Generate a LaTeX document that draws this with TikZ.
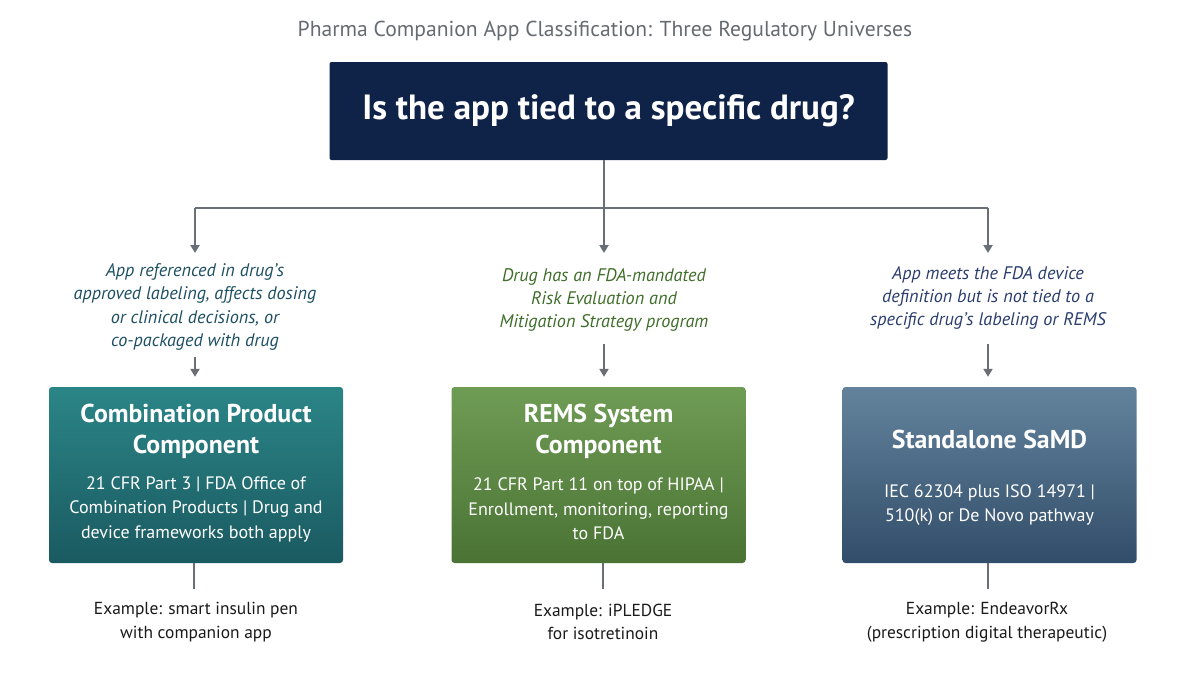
\documentclass[tikz,border=0pt]{standalone}
\usepackage{fontspec}
\setmainfont{PT Sans}
\usetikzlibrary{arrows.meta}
\newcommand{\sq}{\char"0027\relax}
\definecolor{navy}{HTML}{0E2347}
\definecolor{ttlgray}{HTML}{666B72}
\definecolor{conngray}{HTML}{6A6F76}
\definecolor{condA}{HTML}{1D4F63}
\definecolor{condB}{HTML}{3F6E2A}
\definecolor{condC}{HTML}{2A3D6E}
\definecolor{boxAtop}{HTML}{2B8587}
\definecolor{boxAbot}{HTML}{1A5A61}
\definecolor{boxBtop}{HTML}{6F9C55}
\definecolor{boxBbot}{HTML}{4A7334}
\definecolor{boxCtop}{HTML}{63839D}
\definecolor{boxCbot}{HTML}{324D69}
\definecolor{extext}{HTML}{1A1A1A}
\begin{document}
\begin{tikzpicture}[x=1pt,y=-1pt,
  conn/.style={draw=conngray,line width=2pt},
  arr/.style={conn,-{Triangle[width=9pt,length=8pt]}},
  plain/.style={conn},
  qbox/.style={fill=navy,rounded corners=2pt,minimum width=558pt,minimum height=98pt,inner sep=0pt,
    text=white,font=\fontsize{35}{42}\selectfont\bfseries},
  cond/.style={align=center,inner sep=0pt,font=\fontsize{18.2}{23.3}\selectfont\itshape},
  catbox/.style={rounded corners=3pt,minimum width=294pt,minimum height=176pt,inner sep=0pt},
  cattitle/.style={align=center,inner sep=0pt,text=white,font=\fontsize{25.8}{31}\selectfont\bfseries},
  catbody/.style={align=center,inner sep=0pt,text=white,font=\fontsize{18}{24.5}\selectfont},
  example/.style={align=center,inner sep=0pt,text=extext,font=\fontsize{17.4}{23.5}\selectfont}
]
\useasboundingbox (0,0) rectangle (1200,675);
\fill[white] (0,0) rectangle (1200,675);

\node[inner sep=0pt,text=ttlgray,font=\fontsize{21.6}{26}\selectfont] (title) at (605,31)
  {Pharma Companion App Classification: Three Regulatory Universes};

\node[qbox] (q) at (608.5,111) {Is the app tied to a specific drug?};

% junctions
\coordinate (j1) at (195,208);
\coordinate (j2) at (604,208);
\coordinate (j3) at (988,208);
\coordinate (t1) at (195,253);
\coordinate (t2) at (604,253);
\coordinate (t3) at (988,253);

\draw[plain] (q.south -| j2) -- (j2);
\draw[plain] (j1) -- (j3);
\draw[arr] (j1) -- (t1);
\draw[arr] (j2) -- (t2);
\draw[arr] (j3) -- (t3);

% conditions
\node[cond,text=condA] (c1) at (195,307) {App referenced in drug\sq s\\approved labeling, affects dosing\\or clinical decisions, or\\co-packaged with drug};
\node[cond,text=condB] (c2) at (604,300) {Drug has an FDA-mandated\\Risk Evaluation and\\Mitigation Strategy program};
\node[cond,text=condC] (c3) at (988,298) {App meets the FDA device\\definition but is not tied to a\\specific drug\sq s labeling or REMS};

% boxes
\node[catbox,top color=boxAtop,bottom color=boxAbot] (b1) at (196,475) {};
\node[catbox,top color=boxBtop,bottom color=boxBbot] (b2) at (598.5,475) {};
\node[catbox,top color=boxCtop,bottom color=boxCbot] (b3) at (989.5,475) {};

\coordinate (s1) at (195,357);
\coordinate (s2) at (604,344);
\coordinate (s3) at (988,344);
\draw[arr] (s1) -- ([yshift=10pt]s1 |- b1.north);
\draw[arr] (s2) -- ([yshift=10pt]s2 |- b2.north);
\draw[arr] (s3) -- ([yshift=10pt]s3 |- b3.north);

\node[cattitle] (h1) at (196,431) {Combination Product\\Component};
\node[catbody] (d1) at (196,509) {21 CFR Part 3 | FDA Office of\\Combination Products | Drug and\\device frameworks both apply};
\node[cattitle] (h2) at (598.5,431) {REMS System\\Component};
\node[catbody] (d2) at (598.5,509) {21 CFR Part 11 on top of HIPAA |\\Enrollment, monitoring, reporting\\to FDA};
\node[cattitle] (h3) at (989.5,439) {Standalone SaMD};
\node[catbody] (d3) at (989.5,505) {IEC 62304 plus ISO 14971 |\\510(k) or De Novo pathway};

% examples
\coordinate (e1) at (194,589);
\coordinate (e2) at (603,589);
\coordinate (e3) at (988,589);
\draw[plain] (b1.south -| e1) -- (e1);
\draw[plain] (b2.south -| e2) -- (e2);
\draw[plain] (b3.south -| e3) -- (e3);

\node[example] (x1) at (196,622) {Example: smart insulin pen\\with companion app};
\node[example] (x2) at (603,622) {Example: iPLEDGE\\for isotretinoin};
\node[example] (x3) at (987,622) {Example: EndeavorRx\\(prescription digital therapeutic)};
\end{tikzpicture}
\end{document}
